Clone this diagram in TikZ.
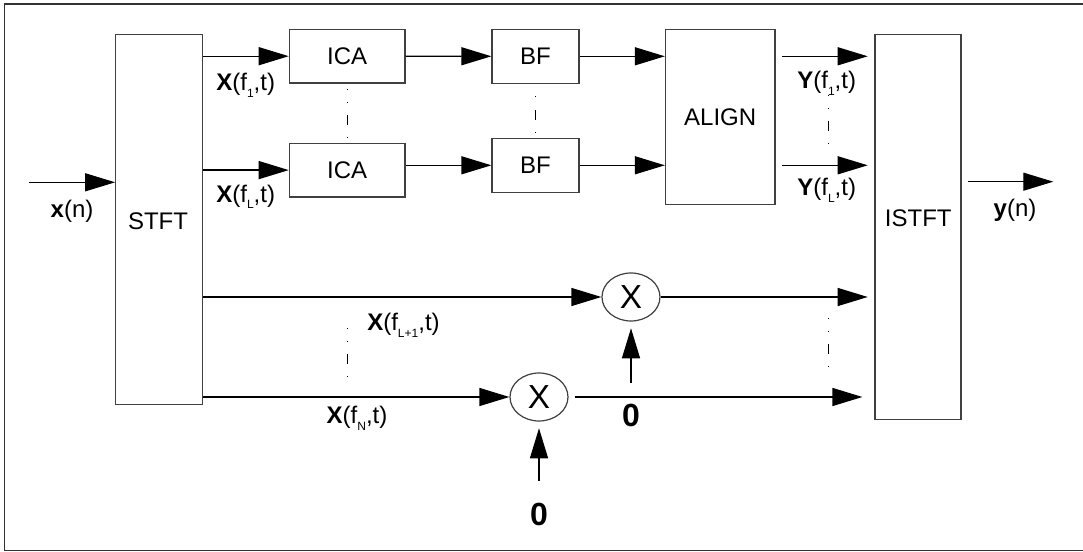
\documentclass[tikz,border=0pt]{standalone}
\usepackage{fontspec}
\setmainfont{Liberation Sans}
\usetikzlibrary{arrows.meta,shapes.geometric}
\newcommand{\lsub}[1]{\raisebox{-5pt}{\fontsize{9}{9}\selectfont #1}}
\tikzset{
  blk/.style={draw=black!75, line width=0.9pt, inner sep=0pt, font=\fontsize{18}{20}\selectfont},
  mul/.style={ellipse, draw=black!75, line width=0.9pt, minimum width=43.5pt, minimum height=36pt, inner sep=0pt, font=\fontsize{25}{25}\selectfont},
  lbl/.style={inner sep=0pt, font=\fontsize{18}{20}\selectfont},
  zero/.style={inner sep=0pt, font=\fontsize{24}{24}\selectfont\bfseries},
  arr/.style={-{Triangle[length=22.5pt,width=13.5pt]}, line width=0.9pt},
  vdots/.style={line width=0.75pt, dash pattern=on 0.75pt off 9pt on 0.75pt off 9pt on 7.5pt off 9pt on 0.75pt off 30pt},
  vdotsb/.style={line width=0.75pt, dash pattern=on 0.75pt off 9.75pt on 7.5pt off 9pt on 0.75pt off 30pt}
}

\begin{document}
\begin{tikzpicture}[x=0.75pt, y=-0.75pt]
\useasboundingbox (0,0) rectangle (1083,552);
% frame
\draw[black!80, line width=1.2pt] (1083,4.3) -- (4.3,4.3) -- (4.3,550.5) -- (1083,550.5);

% blocks
\node[blk, minimum width=65.25pt, minimum height=277.5pt] (stft) at (159.2,219.2) {};
\node[lbl] at (158,221) {STFT};
\node[blk, minimum width=86.8pt, minimum height=40.3pt] (ica1) at (347.2,56.2) {ICA};
\node[blk, minimum width=86.8pt, minimum height=40.3pt] (ica2) at (347.2,170.1) {ICA};
\node[blk, minimum width=65.25pt, minimum height=40.5pt] (bf1) at (535.5,56.3) {BF};
\node[blk, minimum width=65.25pt, minimum height=40.5pt] (bf2) at (535.5,165.3) {BF};
\node[blk, minimum width=82.1pt, minimum height=131.25pt] (align) at (720.2,116.8) {ALIGN};
\node[blk, minimum width=64.5pt, minimum height=288.75pt] (istft) at (918,226.7) {};
\node[lbl] at (918.3,218.3) {ISTFT};
\node[mul] (mul1) at (631,297) {X};
\node[mul] (mul2) at (539,397) {X};

% labels
\node[lbl] (lxin) at (72,211) {\textbf{x}(n)};
\node[lbl] (lyout) at (1015,210) {\textbf{y}(n)};
\node[lbl] (lx1) at (245.7,85) {\textbf{X}(f\lsub{1},t)};
\node[lbl] (lxl) at (245.7,196.7) {\textbf{X}(f\lsub{L},t)};
\node[lbl] (ly1) at (826.7,83.3) {\textbf{Y}(f\lsub{1},t)};
\node[lbl] (lyl) at (826.7,190) {\textbf{Y}(f\lsub{L},t)};
\node[lbl] (lxl1) at (403.5,325) {\textbf{X}(f\lsub{L+1},t)};
\node[lbl] (lxn) at (357,418.5) {\textbf{X}(f\lsub{N},t)};
\node[zero] (lz1) at (631,415) {0};
\node[zero] (lz2) at (539,514) {0};

\coordinate (xin) at (29,182.3);
\coordinate (yout) at (1053.3,181.7);
\coordinate (z1) at (631,383);
\coordinate (z2) at (539,481);

% arrows
\draw[arr] (xin) -- (xin -| stft.west);
\draw[arr] (stft.east |- ica1.west) -- (ica1.west);
\draw[arr] (stft.east |- ica2.west) -- (ica2.west);
\draw[arr] (ica1.east) -- (bf1.west);
\draw[arr] (ica2.east |- bf2.west) -- (bf2.west);
\draw[arr] (bf1.east) -- (bf1.east -| align.west);
\draw[arr] (bf2.east) -- (bf2.east -| align.west);
\draw[arr, shorten <=5pt, shorten >=5pt] (align.east |- bf1.east) -- (istft.west |- bf1.east);
\draw[arr, shorten <=5pt, shorten >=5pt] (align.east |- bf2.east) -- (istft.west |- bf2.east);
\draw[arr, shorten <=4.5pt] (istft.east |- yout) -- (yout);
\draw[arr] (stft.east |- mul1.west) -- (mul1.west);
\draw[arr, shorten >=5pt] (mul1.east) -- (mul1.east -| istft.west);
\draw[arr] (stft.east |- mul2.west) -- (mul2.west);
\draw[arr, shorten <=4.5pt, shorten >=9pt] (mul2.east) -- (mul2.east -| istft.west);
\draw[arr, shorten >=5pt] (z1) -- (mul1.south);
\draw[arr, shorten >=5pt] (z2) -- (mul2.south);

% dots
\draw[vdots] (347,89) -- (347,138);
\draw[vdotsb] (535.5,96) -- (535.5,133);
\draw[vdots] (828.3,95) -- (828.3,144);
\draw[vdots] (347,328) -- (347,377);
\draw[vdots] (828.3,318) -- (828.3,367);
\end{tikzpicture}
\end{document}
